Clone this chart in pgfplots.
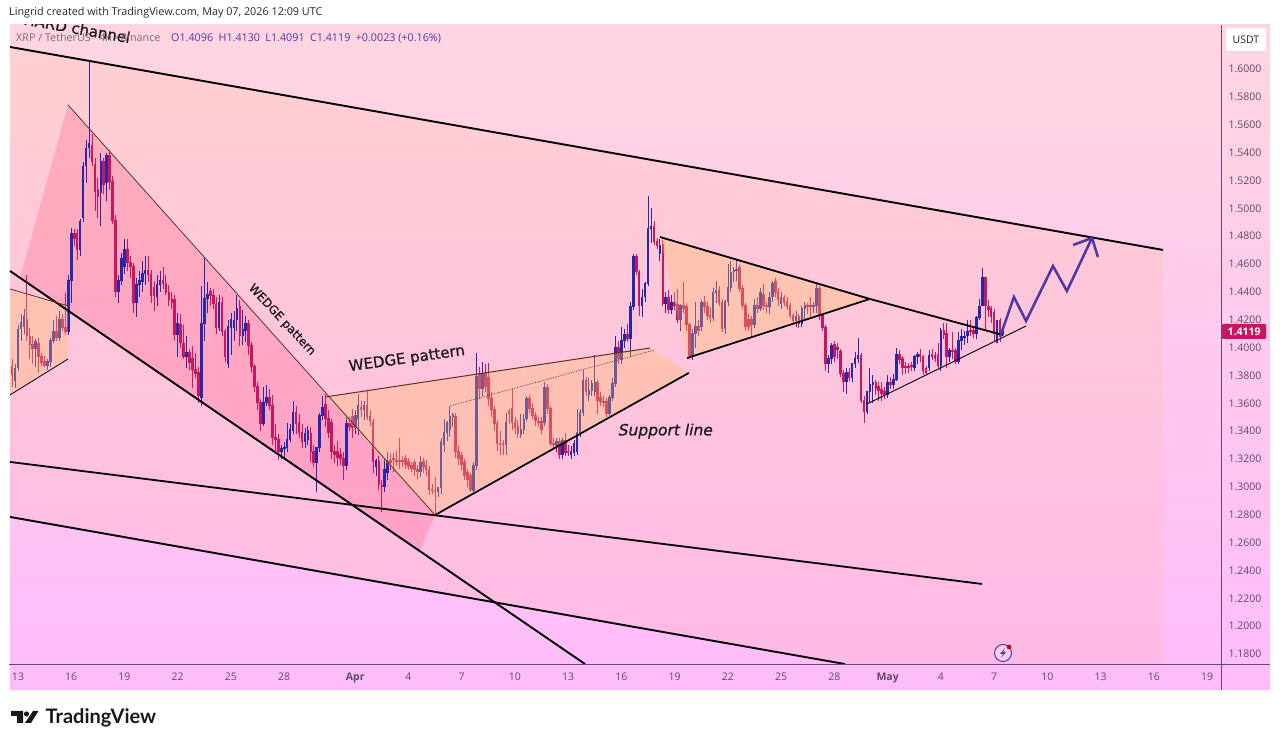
\documentclass[border=0pt]{standalone}
\usepackage{pgfplots}
\usepackage{pgfplotstable}
\usepackage{fontspec}
\setmainfont{Open Sans}
\newfontfamily\chartfont[FakeBold=0.6]{DejaVu Sans}
\newfontfamily\logofont{Lato}
\pgfplotsset{compat=1.18}
\definecolor{cup}{RGB}{38,40,172}
\definecolor{cdn}{RGB}{200,23,95}
\definecolor{bgtop}{RGB}{255,214,224}
\definecolor{bgmid}{RGB}{255,200,220}
\definecolor{bgbot}{RGB}{255,188,251}
\definecolor{axcol}{RGB}{100,70,120}
\definecolor{tickcol}{RGB}{95,75,100}
\definecolor{hdrg}{RGB}{120,105,125}
\definecolor{hdrv}{RGB}{72,60,170}
\definecolor{arrowc}{RGB}{75,55,168}
\definecolor{chanfill}{RGB}{255,170,100}
\definecolor{triafill}{RGB}{255,190,100}
\definecolor{pinkfill}{RGB}{255,60,110}
\definecolor{brownline}{RGB}{90,50,40}
\pgfplotstableread{
i o h l c
-2 1.386 1.392 1.372 1.380
-1 1.376 1.388 1.371 1.385
0 1.385 1.416 1.383 1.413
1 1.413 1.424 1.405 1.418
2 1.415 1.428 1.410 1.422
3 1.420 1.452 1.405 1.408
4 1.408 1.414 1.392 1.402
5 1.402 1.408 1.388 1.399
6 1.399 1.406 1.386 1.404
7 1.403 1.407 1.382 1.393
8 1.393 1.396 1.387 1.389
9 1.390 1.394 1.386 1.387
10 1.387 1.392 1.384 1.390
11 1.390 1.407 1.386 1.405
12 1.405 1.420 1.403 1.411
13 1.411 1.423 1.405 1.407
14 1.407 1.426 1.405 1.420
15 1.420 1.424 1.412 1.414
16 1.414 1.439 1.409 1.411
17 1.411 1.452 1.409 1.448
18 1.448 1.486 1.432 1.482
19 1.482 1.485 1.473 1.478
20 1.482 1.485 1.463 1.470
21 1.470 1.492 1.466 1.490
22 1.493 1.533 1.490 1.530
23 1.530 1.549 1.518 1.543
24 1.543 1.606 1.536 1.546
25 1.545 1.553 1.530 1.533
26 1.531 1.536 1.498 1.512
27 1.513 1.522 1.493 1.508
28 1.511 1.540 1.487 1.533
29 1.533 1.536 1.510 1.517
30 1.518 1.540 1.505 1.538
31 1.538 1.542 1.513 1.519
32 1.519 1.523 1.489 1.491
33 1.491 1.495 1.436 1.440
34 1.440 1.452 1.432 1.448
35 1.448 1.468 1.445 1.464
36 1.458 1.478 1.453 1.470
37 1.470 1.478 1.455 1.461
38 1.461 1.466 1.450 1.458
39 1.458 1.461 1.425 1.432
40 1.432 1.450 1.422 1.445
41 1.445 1.455 1.436 1.448
42 1.447 1.462 1.440 1.453
43 1.453 1.466 1.445 1.455
44 1.455 1.466 1.447 1.452
45 1.452 1.456 1.432 1.437
46 1.443 1.448 1.426 1.437
47 1.436 1.452 1.430 1.445
48 1.445 1.455 1.440 1.448
49 1.448 1.458 1.442 1.446
50 1.446 1.452 1.438 1.439
51 1.439 1.445 1.430 1.434
52 1.434 1.440 1.428 1.432
53 1.434 1.438 1.405 1.409
54 1.409 1.425 1.393 1.417
55 1.416 1.424 1.400 1.403
56 1.403 1.416 1.392 1.393
57 1.393 1.408 1.385 1.396
58 1.396 1.399 1.384 1.389
59 1.392 1.401 1.371 1.384
60 1.384 1.396 1.378 1.381
61 1.382 1.386 1.360 1.365
62 1.364 1.444 1.358 1.417
63 1.417 1.465 1.405 1.435
64 1.435 1.447 1.425 1.438
65 1.440 1.443 1.430 1.437
66 1.437 1.442 1.428 1.431
67 1.431 1.436 1.410 1.414
68 1.414 1.438 1.412 1.432
69 1.432 1.436 1.408 1.411
70 1.411 1.413 1.390 1.393
71 1.388 1.420 1.385 1.415
72 1.414 1.425 1.395 1.420
73 1.414 1.426 1.405 1.419
74 1.420 1.438 1.412 1.428
75 1.429 1.434 1.401 1.408
76 1.408 1.427 1.402 1.413
77 1.412 1.423 1.404 1.417
78 1.417 1.420 1.395 1.401
79 1.401 1.404 1.382 1.386
80 1.386 1.388 1.368 1.372
81 1.372 1.375 1.355 1.360
82 1.360 1.363 1.340 1.345
83 1.345 1.372 1.344 1.360
84 1.360 1.373 1.358 1.364
85 1.364 1.370 1.355 1.358
86 1.358 1.366 1.330 1.335
87 1.335 1.345 1.325 1.334
88 1.334 1.338 1.319 1.325
89 1.325 1.330 1.320 1.327
90 1.327 1.332 1.320 1.328
91 1.328 1.346 1.325 1.334
92 1.334 1.345 1.332 1.341
93 1.340 1.362 1.338 1.353
94 1.353 1.358 1.338 1.345
95 1.346 1.352 1.335 1.339
96 1.339 1.345 1.328 1.332
97 1.332 1.342 1.328 1.338
98 1.334 1.344 1.330 1.340
99 1.338 1.343 1.318 1.325
100 1.325 1.330 1.314 1.317
101 1.317 1.328 1.296 1.328
102 1.328 1.353 1.325 1.351
103 1.351 1.365 1.348 1.357
104 1.359 1.367 1.343 1.349
105 1.349 1.355 1.335 1.339
106 1.346 1.349 1.320 1.325
107 1.325 1.330 1.317 1.323
108 1.325 1.333 1.315 1.321
109 1.323 1.328 1.316 1.320
110 1.320 1.325 1.305 1.315
111 1.315 1.350 1.312 1.345
112 1.345 1.350 1.340 1.343
113 1.350 1.356 1.335 1.342
114 1.342 1.355 1.338 1.351
115 1.349 1.367 1.337 1.358
116 1.357 1.362 1.350 1.355
117 1.355 1.362 1.348 1.358
118 1.358 1.369 1.348 1.350
119 1.350 1.355 1.344 1.347
120 1.347 1.349 1.310 1.318
121 1.314 1.320 1.308 1.319
122 1.318 1.322 1.298 1.301
123 1.301 1.305 1.282 1.300
124 1.300 1.320 1.296 1.312
125 1.310 1.325 1.305 1.318
126 1.319 1.324 1.312 1.317
127 1.320 1.324 1.311 1.319
128 1.319 1.326 1.315 1.318
129 1.319 1.335 1.313 1.318
130 1.319 1.322 1.314 1.318
131 1.320 1.323 1.313 1.316
132 1.318 1.321 1.312 1.314
133 1.315 1.318 1.311 1.313
134 1.317 1.319 1.308 1.312
135 1.312 1.316 1.306 1.311
136 1.311 1.322 1.307 1.317
137 1.318 1.321 1.310 1.314
138 1.315 1.319 1.308 1.312
139 1.312 1.315 1.294 1.298
140 1.298 1.302 1.295 1.297
141 1.297 1.307 1.281 1.296
142 1.296 1.300 1.293 1.299
143 1.299 1.335 1.295 1.332
144 1.330 1.349 1.325 1.339
145 1.339 1.347 1.333 1.346
146 1.341 1.358 1.336 1.350
147 1.350 1.353 1.343 1.352
148 1.350 1.353 1.321 1.325
149 1.325 1.330 1.316 1.320
150 1.322 1.325 1.312 1.316
151 1.317 1.320 1.305 1.308
152 1.310 1.313 1.300 1.305
153 1.308 1.310 1.296 1.298
154 1.297 1.318 1.296 1.315
155 1.315 1.396 1.312 1.379
156 1.381 1.386 1.363 1.370
157 1.370 1.390 1.365 1.381
158 1.381 1.388 1.368 1.372
159 1.378 1.389 1.358 1.363
160 1.363 1.368 1.350 1.355
161 1.355 1.358 1.340 1.345
162 1.345 1.348 1.326 1.331
163 1.331 1.340 1.323 1.330
164 1.331 1.334 1.323 1.330
165 1.330 1.353 1.323 1.346
166 1.354 1.356 1.345 1.352
167 1.356 1.370 1.341 1.346
168 1.346 1.350 1.338 1.342
169 1.343 1.348 1.335 1.338
170 1.337 1.352 1.335 1.341
171 1.341 1.352 1.338 1.348
172 1.349 1.365 1.347 1.363
173 1.363 1.366 1.353 1.356
174 1.356 1.360 1.349 1.351
175 1.351 1.354 1.344 1.347
176 1.347 1.350 1.343 1.346
177 1.347 1.350 1.338 1.341
178 1.346 1.375 1.344 1.371
179 1.371 1.374 1.352 1.356
180 1.356 1.358 1.329 1.331
181 1.331 1.335 1.327 1.330
182 1.329 1.335 1.325 1.332
183 1.332 1.335 1.320 1.323
184 1.323 1.335 1.320 1.333
185 1.333 1.339 1.322 1.324
186 1.325 1.330 1.322 1.324
187 1.323 1.329 1.320 1.325
188 1.324 1.334 1.322 1.331
189 1.325 1.356 1.323 1.339
190 1.339 1.356 1.336 1.353
191 1.353 1.384 1.351 1.376
192 1.376 1.379 1.365 1.368
193 1.366 1.378 1.362 1.369
194 1.369 1.377 1.365 1.374
195 1.368 1.395 1.365 1.375
196 1.375 1.377 1.352 1.362
197 1.364 1.368 1.358 1.361
198 1.361 1.365 1.357 1.360
199 1.361 1.364 1.350 1.352
200 1.352 1.366 1.351 1.364
201 1.364 1.378 1.362 1.374
202 1.374 1.408 1.372 1.400
203 1.400 1.405 1.388 1.392
204 1.391 1.415 1.388 1.405
205 1.405 1.413 1.400 1.409
206 1.409 1.417 1.404 1.406
207 1.406 1.433 1.393 1.429
208 1.429 1.467 1.427 1.465
209 1.465 1.467 1.452 1.454
210 1.454 1.456 1.423 1.430
211 1.430 1.442 1.422 1.436
212 1.436 1.447 1.433 1.446
213 1.446 1.509 1.444 1.485
214 1.485 1.500 1.475 1.487
215 1.487 1.491 1.474 1.476
216 1.476 1.479 1.471 1.473
217 1.467 1.478 1.462 1.473
218 1.474 1.477 1.430 1.431
219 1.431 1.440 1.425 1.436
220 1.436 1.441 1.424 1.427
221 1.427 1.438 1.424 1.432
222 1.432 1.440 1.427 1.430
223 1.431 1.442 1.418 1.420
224 1.420 1.431 1.412 1.430
225 1.430 1.447 1.425 1.428
226 1.429 1.432 1.412 1.416
227 1.416 1.418 1.392 1.394
228 1.394 1.413 1.391 1.410
229 1.410 1.433 1.400 1.415
230 1.415 1.420 1.408 1.412
231 1.415 1.434 1.412 1.432
232 1.432 1.437 1.425 1.429
233 1.429 1.433 1.420 1.423
234 1.423 1.429 1.418 1.421
235 1.421 1.443 1.419 1.439
236 1.439 1.448 1.432 1.441
237 1.441 1.444 1.430 1.432
238 1.432 1.435 1.411 1.413
239 1.413 1.434 1.410 1.433
240 1.433 1.460 1.430 1.443
241 1.443 1.462 1.440 1.454
242 1.454 1.458 1.447 1.455
243 1.455 1.463 1.448 1.456
244 1.457 1.459 1.440 1.442
245 1.442 1.445 1.428 1.430
246 1.430 1.432 1.412 1.415
247 1.420 1.424 1.412 1.415
248 1.420 1.423 1.408 1.416
249 1.416 1.435 1.414 1.430
250 1.430 1.436 1.425 1.428
251 1.428 1.443 1.426 1.439
252 1.438 1.446 1.427 1.430
253 1.430 1.433 1.425 1.429
254 1.429 1.440 1.424 1.436
255 1.436 1.448 1.433 1.446
256 1.447 1.450 1.436 1.439
257 1.439 1.443 1.430 1.434
258 1.431 1.440 1.428 1.436
259 1.436 1.438 1.430 1.432
260 1.433 1.436 1.427 1.429
261 1.430 1.432 1.421 1.423
262 1.423 1.425 1.417 1.419
263 1.419 1.426 1.415 1.422
264 1.422 1.424 1.414 1.417
265 1.417 1.430 1.415 1.428
266 1.428 1.433 1.420 1.430
267 1.430 1.432 1.424 1.429
268 1.430 1.436 1.421 1.429
269 1.429 1.433 1.425 1.430
270 1.430 1.446 1.425 1.442
271 1.442 1.444 1.420 1.423
272 1.423 1.425 1.412 1.414
273 1.414 1.416 1.383 1.388
274 1.388 1.395 1.382 1.392
275 1.392 1.403 1.388 1.401
276 1.402 1.405 1.390 1.393
277 1.400 1.403 1.392 1.398
278 1.397 1.399 1.379 1.381
279 1.381 1.384 1.368 1.375
280 1.375 1.385 1.367 1.382
281 1.382 1.385 1.376 1.378
282 1.378 1.389 1.375 1.388
283 1.388 1.397 1.385 1.392
284 1.392 1.407 1.389 1.394
285 1.394 1.396 1.360 1.362
286 1.362 1.365 1.346 1.354
287 1.354 1.369 1.352 1.368
288 1.368 1.385 1.360 1.373
289 1.373 1.380 1.360 1.375
290 1.375 1.377 1.366 1.370
291 1.372 1.375 1.362 1.369
292 1.370 1.375 1.362 1.367
293 1.368 1.372 1.363 1.366
294 1.366 1.380 1.364 1.375
295 1.375 1.379 1.370 1.373
296 1.373 1.381 1.370 1.377
297 1.377 1.400 1.376 1.395
298 1.395 1.398 1.388 1.391
299 1.392 1.394 1.380 1.385
300 1.386 1.390 1.381 1.385
301 1.386 1.389 1.382 1.385
302 1.387 1.390 1.383 1.386
303 1.385 1.395 1.383 1.393
304 1.393 1.397 1.388 1.395
305 1.395 1.399 1.390 1.393
306 1.393 1.395 1.380 1.383
307 1.385 1.387 1.380 1.382
308 1.385 1.398 1.383 1.394
309 1.395 1.399 1.391 1.393
310 1.394 1.397 1.390 1.392
311 1.395 1.403 1.385 1.387
312 1.387 1.414 1.383 1.412
313 1.412 1.418 1.406 1.409
314 1.410 1.418 1.385 1.393
315 1.393 1.400 1.390 1.398
316 1.398 1.411 1.392 1.397
317 1.398 1.400 1.388 1.390
318 1.390 1.411 1.388 1.405
319 1.405 1.413 1.398 1.408
320 1.407 1.412 1.402 1.408
321 1.408 1.420 1.403 1.411
322 1.412 1.420 1.408 1.411
323 1.412 1.415 1.407 1.410
324 1.410 1.423 1.406 1.421
325 1.421 1.435 1.420 1.429
326 1.430 1.457 1.430 1.450
327 1.450 1.451 1.412 1.430
328 1.429 1.434 1.422 1.427
329 1.428 1.430 1.418 1.422
330 1.425 1.428 1.405 1.410
331 1.403 1.420 1.403 1.419
332 1.419 1.421 1.404 1.408
333 1.4096 1.4130 1.4091 1.4119
}\ohlc
\pgfplotsset{
  upbar/.style={x filter/.expression={\thisrow{c}>=\thisrow{o} ? x : nan}},
  dnbar/.style={x filter/.expression={\thisrow{c}<\thisrow{o} ? x : nan}},
}
\begin{document}
\begin{tikzpicture}
\useasboundingbox (0,0) rectangle (1280pt,746pt);
\fill[top color=bgtop, middle color=bgmid, bottom color=bgbot] (10pt,56pt) rectangle (1270pt,721pt);
\begin{axis}[
  at={(9.5pt,82pt)}, anchor=south west, scale only axis,
  width=1211.5pt, height=639pt,
  xmin=-2.874, xmax=406.7, ymin=1.17284, ymax=1.63159,
  unbounded coords=discard,
  axis x line*=bottom, axis y line*=right,
  axis line style={draw=axcol, line width=0.8pt},
  major tick length=0pt,
  xtick={0,18,36,54,72,90,114,132,150,168,186,204,222,240,258,276,294,312,330,348,366,384,402},
  xticklabels={13,16,19,22,25,28,\textbf{Apr},4,7,10,13,16,19,22,25,28,\textbf{May},4,7,10,13,16,19},
  ytick={1.18,1.20,1.22,1.24,1.26,1.28,1.30,1.32,1.34,1.36,1.38,1.40,1.42,1.44,1.46,1.48,1.50,1.52,1.54,1.56,1.58,1.60},
  /pgf/number format/fixed, /pgf/number format/fixed zerofill, /pgf/number format/precision=4, /pgf/number format/assume math mode=true,
  tick label style={font=\fontsize{10.5}{12}\selectfont, text=tickcol},
  xticklabel style={anchor=base, yshift=-17pt},
  yticklabel style={anchor=center, xshift=24pt},
]
% fills behind the candles
\addplot[fill=chanfill, fill opacity=0.12, draw=none] coordinates {(-2.7,1.6158) (387.1,1.4701) (387.1,1.1728) (279.6,1.1728) (-2.7,1.2784)} -- cycle;
\addplot[fill=pinkfill, fill opacity=0.22, draw=none] coordinates {(16.9,1.5742) (141,1.2798) (135.9,1.2540) (0.7,1.4500)} -- cycle;
% candles: wicks, then bodies
\addplot[draw=none, mark=none, upbar, error bars/.cd, y dir=plus, y explicit, error mark=none, error bar style={draw=cup, line width=0.8pt}]
  table[x=i, y=l, y error expr=\thisrow{h}-\thisrow{l}] {\ohlc};
\addplot[draw=none, mark=none, dnbar, error bars/.cd, y dir=plus, y explicit, error mark=none, error bar style={draw=cdn, line width=0.8pt}]
  table[x=i, y=l, y error expr=\thisrow{h}-\thisrow{l}] {\ohlc};
\addplot[draw=none, mark=none, upbar, error bars/.cd, y dir=plus, y explicit, error mark=none, error bar style={draw=cup, line width=2.6pt}]
  table[x=i, y=o, y error expr=\thisrow{c}-\thisrow{o}+0.0006] {\ohlc};
\addplot[draw=none, mark=none, dnbar, error bars/.cd, y dir=plus, y explicit, error mark=none, error bar style={draw=cdn, line width=2.6pt}]
  table[x=i, y=c, y error expr=\thisrow{o}-\thisrow{c}+0.0006] {\ohlc};
% fills over the candles
\addplot[fill=triafill, fill opacity=0.34, draw=none] coordinates {(-2.7,1.4421) (16.9,1.4299) (16.9,1.3918) (-2.7,1.3660)} -- cycle;
\addplot[fill=triafill, fill opacity=0.34, draw=none] coordinates {(103.8,1.3645) (213.7,1.3997) (226.8,1.3818) (141,1.2798)} -- cycle;
\addplot[fill=triafill, fill opacity=0.34, draw=none] coordinates {(217,1.4794) (288,1.4349) (226.2,1.3925)} -- cycle;
% lines
\addplot[black, line width=1.9pt] coordinates {(-2.7,1.6158) (387.1,1.4701)};
\addplot[black, line width=1.9pt] coordinates {(-2.7,1.2784) (279.6,1.1728)};
\addplot[black, line width=1.8pt] coordinates {(-2.7,1.3179) (325.9,1.2303)};
\addplot[black, line width=1.9pt] coordinates {(-2.7,1.4550) (191.7,1.1728)};
\addplot[brownline, line width=0.8pt] coordinates {(16.9,1.5742) (141,1.2798)};
\addplot[brownline, line width=0.8pt] coordinates {(-2.7,1.4421) (16.9,1.4299)};
\addplot[black, line width=0.8pt] coordinates {(-2.7,1.3660) (16.9,1.3918)};
\addplot[brownline, line width=1.0pt] coordinates {(103.8,1.3645) (213.7,1.3997)};
\addplot[black, line width=1.7pt] coordinates {(141,1.2798) (226.8,1.3818)};
\addplot[brownline, line width=0.7pt, densely dotted] coordinates {(146,1.3581) (215.3,1.3983)};
\addplot[black, line width=1.8pt] coordinates {(217,1.4794) (288,1.4349) (333,1.4090)};
\addplot[black, line width=1.7pt] coordinates {(226.2,1.3925) (288,1.4349)};
\addplot[black, line width=0.9pt] coordinates {(287,1.3595) (340.8,1.4155)};
\addplot[arrowc, line width=2.5pt, line join=miter] coordinates {(332,1.4076) (336.7,1.4363) (340.8,1.4191) (349.9,1.4586) (354.6,1.4406) (363.1,1.4787)};
\addplot[arrowc, line width=2.5pt, line join=miter] coordinates {(356.7,1.4736) (363.1,1.4787) (365.1,1.4650)};
% text
\node[rotate=-47, font=\chartfont\fontsize{11.8}{13}\selectfont, text=black!90] at (axis cs:89.2,1.4198) {WEDGE pattern};
\node[rotate=8, font=\chartfont\fontsize{15}{17}\selectfont, text=black!90] at (axis cs:131.5,1.3917) {WEDGE pattern};
\node[font=\chartfont\itshape\fontsize{15.5}{17}\selectfont, text=black!90] at (axis cs:219,1.3400) {Support line};
\begin{scope}
\clip (axis cs:-2.874,1.17284) rectangle (axis cs:406.7,1.63159);
\node[rotate=-10, font=\chartfont\fontsize{15}{17}\selectfont, text=black!90] at (axis cs:20.0,1.6292) {HARD channel};
\end{scope}
\end{axis}
% frame pieces beyond the plotting rectangle
\draw[axcol, line width=0.8pt] (1221pt,56pt) -- (1221pt,721pt);
\draw[axcol, line width=0.8pt] (10pt,82pt) -- (1270pt,82pt);
% header
\node[anchor=west, inner sep=0pt, font=\fontsize{10.8}{12}\selectfont, text=black!85] at (9pt,733pt) {Lingrid created with TradingView.com, May 07, 2026 12:09 UTC};
\node[anchor=west, inner sep=0pt, font=\fontsize{10.75}{12}\selectfont, text=hdrg] at (16pt,708pt) {XRP / TetherUS \textperiodcentered{} 4h \textperiodcentered{} Binance\quad \textcolor{hdrv}{O1.4096\enspace H1.4130\enspace L1.4091\enspace C1.4119\enspace +0.0023 (+0.16\%)}};
% right panel
\fill[white, rounded corners=2pt] (1226pt,695pt) rectangle (1266pt,718pt);
\node[font=\fontsize{10.5}{12}\selectfont, text=black!85] at (1246pt,706.5pt) {USDT};
\fill[cdn, rounded corners=1pt] (1222pt,407pt) rectangle (1266pt,422pt);
\node[font=\bfseries\fontsize{10.5}{12}\selectfont, text=white] at (1244pt,414.5pt) {1.4119};
% flash icon
\draw[arrowc, line width=1pt, fill=white, fill opacity=0.3] (1003pt,93pt) circle (8.5pt);
\fill[arrowc] (1005pt,98pt) -- (1000pt,92pt) -- (1003pt,92pt) -- (1001pt,88pt) -- (1006pt,94pt) -- (1003pt,94pt) -- cycle;
\fill[red!80!black] (1009pt,99pt) circle (2.3pt);
% logo
\fill[black!90] (11pt,35pt) -- (23pt,35pt) -- (23pt,23pt) -- (17pt,23pt) -- (17pt,30pt) -- (11pt,30pt) -- cycle;
\fill[black!90] (26.5pt,32pt) circle (2.6pt);
\fill[black!90] (33pt,35pt) -- (38.5pt,35pt) -- (31pt,23pt) -- (25pt,23pt) -- cycle;
\node[anchor=base west, inner sep=0pt, font=\logofont\bfseries\fontsize{20}{22}\selectfont, text=black!90] at (45.5pt,22.5pt) {TradingView};
\end{tikzpicture}
\end{document}
